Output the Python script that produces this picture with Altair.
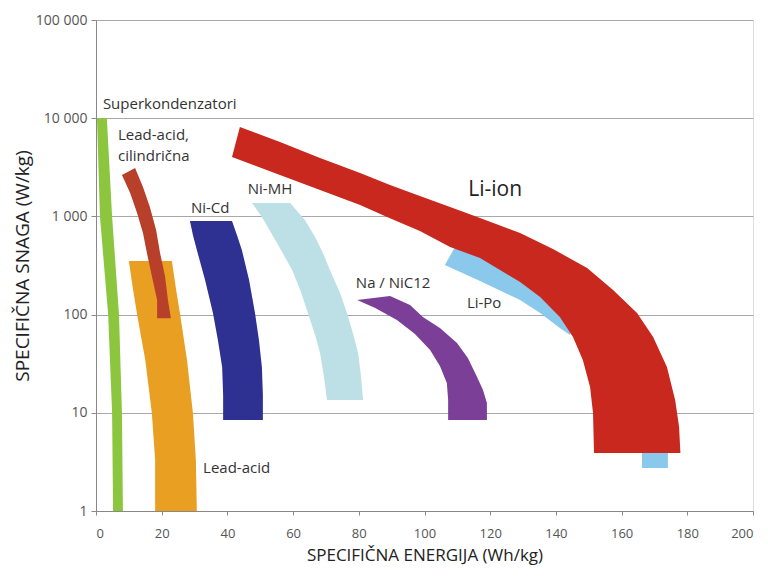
import altair as alt
import pandas as pd

# ---------------- data ----------------
# Each technology region: polygon vertices (specific energy Wh/kg, specific power W/kg)
SUPERCAP_X = [0.3, 1.2, 3.7, 4.9, 5.2, 8.2, 7.9, 7.0, 4.9, 3.3]
SUPERCAP_Y = [10000, 1000, 100, 10, 1, 1, 10, 100, 1000, 10000]

LEADACID_X = [10.0, 11.3, 12.5, 15.0, 17.0, 18.0, 18.0, 30.7, 30.4, 29.5, 27.7, 25.6, 24.4, 23.1]
LEADACID_Y = [351.6, 178, 101, 34.5, 9.95, 3.31, 1, 1, 3.31, 9.95, 34.5, 101, 178, 351.6]

LEADCYL_X = [7.9, 10.4, 12.5, 14.3, 15.5, 17.0, 18.6, 18.6,
             22.8, 21.9, 21.0, 19.5, 18.3, 16.4, 14.3, 11.9]
LEADCYL_Y = [2640, 1730, 1083, 678, 424, 247, 141, 92,
             92, 141, 247, 424, 727, 1247, 1992, 3110]

NICD_X = [28.6, 29.5, 30.7, 33.2, 35.6, 37.1, 38.4, 38.7, 38.7,
          50.8, 50.8, 50.5, 49.6, 48.4, 46.6, 44.4, 42.9, 41.4]
NICD_Y = [898, 647, 455, 225, 104, 55.1, 29.3, 15.2, 8.45,
          8.45, 15.2, 29.3, 55.1, 104, 225, 455, 647, 898]

NIMH_X = [47.5, 50.5, 55.1, 59.7, 62.4, 64.5, 66.7, 68.2, 69.4, 70.3,
          81.3, 80.7, 79.8, 78.2, 76.4, 74.3, 71.2, 69.1, 66.7, 63.6, 59.1]
NIMH_Y = [1368, 986, 536, 285, 170, 104, 62.0, 40.6, 23.2, 13.5,
          13.5, 23.2, 40.6, 65.0, 104, 166, 285, 424, 617, 919, 1368]

NANICL_X = [79.5, 85.0, 91.6, 97.1, 101.7, 104.7, 106.8, 107.2, 107.2,
            119.0, 119.0, 117.8, 116.0, 113.2, 109.9, 104.7, 99.5, 95.6, 89.5]
NANICL_Y = [141, 117, 88.0, 63.5, 43.6, 30.0, 20.1, 13.5, 8.45,
            8.45, 12.6, 17.1, 23.2, 36.1, 51.4, 73.1, 94.5, 125, 155]

LIPO_X = [106.2, 116.9, 129.1, 135.2, 141.2, 144.3, 145.8, 135.2, 123.0, 109.3]
LIPO_Y = [320, 220, 141, 104, 73.1, 62.0, 84.1, 200, 343, 488]

LIPO2_X = [166.2, 174.1, 174.1, 166.2]
LIPO2_Y = [5.3, 5.3, 2.74, 2.74]

LIION_X = [43.8, 56.0, 68.2, 80.4, 89.5, 98.6, 107.8, 116.9, 129.1, 139.1, 149.5, 157.4,
           164.7, 169.6, 173.8, 176.3, 177.5, 177.9,
           151.6, 151.3, 150.4, 148.2, 145.2, 141.2, 135.2, 129.1, 116.9, 107.8, 98.6,
           88.6, 80.4, 68.2, 56.0, 41.4]
LIION_Y = [8128, 5724, 3935, 2767, 2089, 1614, 1250, 965, 678, 466, 298, 178,
           104, 59.2, 29.3, 13.5, 7.17, 3.9,
           3.9, 9.95, 18.3, 34.5, 59.2, 94.5, 151, 215, 377, 488, 710,
           986, 1306, 1858, 2642, 4027]

# Labels
LABEL_TEXT = ["Superkondenzatori", "Lead-acid,", "cilindrična", "Ni-Cd", "Ni-MH",
              "Na / NiC12", "Li-Po", "Lead-acid"]
LABEL_X = [2.1, 6.7, 6.7, 28.9, 46.2, 79.1, 112.9, 32.6]
LABEL_Y = [13960, 6745, 4125, 1218, 1901, 210, 131, 2.74]
BIG_LABEL_TEXT = ["Li-ion"]
BIG_LABEL_X = [121.5]
BIG_LABEL_Y = [1858]

X_TICKS = [0, 20, 40, 60, 80, 100, 120, 140, 160, 180, 200]
Y_TICKS = [1, 10, 100, 1000, 10000, 100000]

FONT = "Open Sans"

x_scale = alt.Scale(domain=[0, 200], nice=False, zero=False)
y_scale = alt.Scale(type="log", domain=[1, 100000], nice=False)

x_axis = alt.Axis(values=X_TICKS, grid=False, title="SPECIFIČNA ENERGIJA (Wh/kg)",
                  labelFont=FONT, labelFontSize=13, labelColor="#555555",
                  labelPadding=12, tickSize=4, tickColor="#888888",
                  domainColor="#888888", titleFont=FONT, titleFontSize=17,
                  titleFontWeight="normal", titleColor="#222222", titlePadding=7)
y_axis = alt.Axis(values=Y_TICKS, grid=True, gridColor="#a8a8a8",
                  title="SPECIFIČNA SNAGA (W/kg)",
                  labelExpr="replace(format(datum.value, ','), ',', ' ')",
                  labelFont=FONT, labelFontSize=14, labelColor="#555555",
                  labelPadding=4, tickSize=5, tickColor="#888888",
                  domainColor="#888888", titleFont=FONT, titleFontSize=19,
                  titleFontWeight="normal", titleColor="#222222", titlePadding=3)


def X():
    return alt.X("x:Q", scale=x_scale, axis=x_axis)


def Y():
    return alt.Y("y:Q", scale=y_scale, axis=y_axis)


shapes = [
    ("Superkondenzatori", SUPERCAP_X, SUPERCAP_Y, "#8cc63e"),
    ("Lead-acid", LEADACID_X, LEADACID_Y, "#e89f22"),
    ("Lead-acid cil.", LEADCYL_X, LEADCYL_Y, "#b8402a"),
    ("Ni-Cd", NICD_X, NICD_Y, "#2e3192"),
    ("Ni-MH", NIMH_X, NIMH_Y, "#bde0e7"),
    ("Na/NiCl2", NANICL_X, NANICL_Y, "#7b3f98"),
    ("Li-Po", LIPO_X, LIPO_Y, "#8ac8ec"),
    ("Li-Po 2", LIPO2_X, LIPO2_Y, "#8ac8ec"),
    ("Li-ion", LIION_X, LIION_Y, "#c9281f"),
]

layers = []
for name, xs, ys, col in shapes:
    df = pd.DataFrame({"x": xs, "y": ys, "i": list(range(len(xs)))})
    layers.append(
        alt.Chart(df).mark_line(filled=True, interpolate="linear-closed")
        .encode(x=X(), y=Y(), order="i:Q", fill=alt.value(col))
    )

lab_df = pd.DataFrame({"t": LABEL_TEXT, "x": LABEL_X, "y": LABEL_Y})
labels = alt.Chart(lab_df).mark_text(align="left", baseline="middle", font=FONT,
                                     fontSize=15, color="#333333").encode(
    x=X(), y=Y(), text="t:N")

big_df = pd.DataFrame({"t": BIG_LABEL_TEXT, "x": BIG_LABEL_X, "y": BIG_LABEL_Y})
big = alt.Chart(big_df).mark_text(align="center", baseline="middle", font=FONT,
                                  fontSize=21, color="#222222").encode(
    x=X(), y=Y(), text="t:N")

chart = alt.layer(*layers, labels, big).properties(
    width=657, height=491,
    autosize=alt.AutoSizeParams(type="none"),
    padding={"left": 88, "top": 12, "right": 6, "bottom": 60},
).configure_view(stroke="#8a8a8a", strokeWidth=1.5).configure(background="white")

chart.save("out.html", embed_options={"renderer": "svg", "actions": False})
